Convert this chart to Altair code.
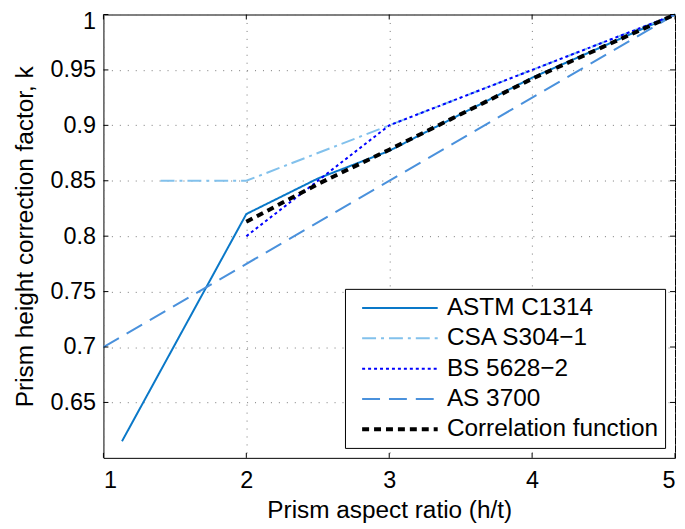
import altair as alt
import pandas as pd

series = ["ASTM C1314", "CSA S304−1", "BS 5628−2", "AS 3700", "Correlation function"]

astm_x = [1.13, 2.0, 2.5, 3.0, 4.0, 5.0]
astm_y = [0.615, 0.82, 0.852, 0.877, 0.943, 1.0]
csa_x = [1.4, 2.0, 3.0, 4.0, 5.0]
csa_y = [0.85, 0.85, 0.9, 0.95, 1.0]
bs_x = [2.0, 3.0, 4.0, 5.0]
bs_y = [0.8, 0.9, 0.95, 1.0]
as_x = [1.0, 5.0]
as_y = [0.7, 1.0]
corr_x = [2.0, 2.5, 3.0, 3.5, 4.0, 4.5, 5.0]
corr_y = [0.813, 0.847, 0.878, 0.91, 0.942, 0.971, 1.0]

x_ticks = [1, 2, 3, 4, 5]
y_ticks = [0.65, 0.7, 0.75, 0.8, 0.85, 0.9, 0.95, 1.0]

colors = ["#0a78c8", "#82c1ec", "#0000ff", "#4a91dc", "#000000"]
dashes = [[1, 0], [14, 5, 3, 5], [3, 3], [18, 9], [7, 5]]
widths = [2, 2, 2, 2, 4]

rows = []
for name, xs, ys in zip(series, [astm_x, csa_x, bs_x, as_x, corr_x],
                        [astm_y, csa_y, bs_y, as_y, corr_y]):
    for i, (xv, yv) in enumerate(zip(xs, ys)):
        rows.append({"series": name, "x": xv, "y": yv, "order": i})
df = pd.DataFrame(rows)

FONT = "Liberation Sans"
FS = 23.5
TFS = 24.5
W, H = 575, 446

xscale = alt.Scale(domain=[1, 5], nice=False, zero=False)
yscale = alt.Scale(domain=[0.6, 1.0], nice=False, zero=False)

legend = alt.Legend(
    title=None, orient="none", legendX=243, legendY=276, direction="vertical",
    fillColor="white", strokeColor="black", padding=7, cornerRadius=0,
    labelFontSize=24.5, labelFont=FONT, labelColor="black",
    symbolType="M-0.2,0H7.4", symbolSize=400, rowPadding=5.5, labelOffset=71,
    labelLimit=400,
)

lines = alt.Chart(df).mark_line(strokeCap="butt", strokeJoin="miter").encode(
    x=alt.X("x:Q", scale=xscale,
            axis=alt.Axis(values=x_ticks, title="Prism aspect ratio (h/t)", format="d",
                          titleX=W / 2, titleY=60, titleBaseline="alphabetic",
                          titleAlign="center")),
    y=alt.Y("y:Q", scale=yscale,
            axis=alt.Axis(values=y_ticks, title="Prism height correction factor, k",
                          labelExpr="format(datum.value, '.2~f')",
                          labelFlush=True, labelFlushOffset=5,
                          titleX=-71, titleY=H / 2, titleAngle=270,
                          titleBaseline="alphabetic", titleAlign="center")),
    color=alt.Color("series:N", scale=alt.Scale(domain=series, range=colors), legend=legend),
    strokeDash=alt.StrokeDash("series:N", scale=alt.Scale(domain=series, range=dashes), legend=legend),
    strokeWidth=alt.StrokeWidth("series:N", scale=alt.Scale(type="ordinal", domain=series, range=widths), legend=legend),
    order="order:Q",
)

xt = pd.DataFrame({"t": x_ticks})
yt = pd.DataFrame({"t": y_ticks})
tick_bottom = alt.Chart(xt).mark_rule(color="black").encode(
    x=alt.X("t:Q", scale=xscale), y=alt.value(H), y2=alt.value(H - 5))
tick_top = alt.Chart(xt).mark_rule(color="black").encode(
    x=alt.X("t:Q", scale=xscale), y=alt.value(0), y2=alt.value(5))
tick_left = alt.Chart(yt).mark_rule(color="black").encode(
    y=alt.Y("t:Q", scale=yscale), x=alt.value(0), x2=alt.value(5))
tick_right = alt.Chart(yt).mark_rule(color="black").encode(
    y=alt.Y("t:Q", scale=yscale), x=alt.value(W), x2=alt.value(W - 5))

chart = alt.layer(lines, tick_bottom, tick_top, tick_left, tick_right).properties(
    width=W, height=H,
    autosize=alt.AutoSizeParams(type="none"),
    padding={"left": 96, "top": 5, "right": 2, "bottom": 68},
).configure_view(stroke="black", strokeWidth=1).configure_axis(
    domain=False, ticks=False, grid=True, gridColor="#777", gridDash=[1, 7], gridWidth=1,
    labelFont=FONT, labelFontSize=FS, labelColor="black",
    titleFont=FONT, titleFontSize=TFS, titleFontWeight="normal", titleColor="black",
).configure_axisX(labelPadding=11).configure_axisY(labelPadding=8)

chart.save("out.html", embed_options={"renderer": "svg", "actions": False})
